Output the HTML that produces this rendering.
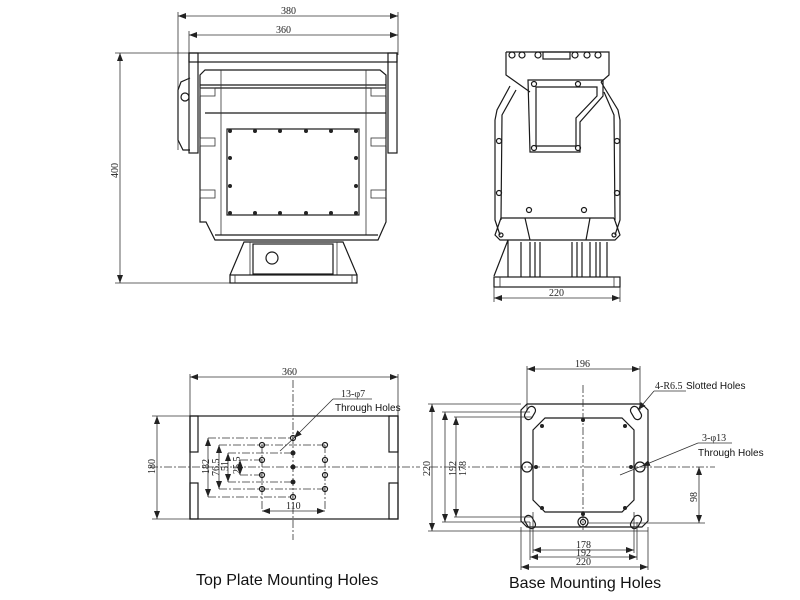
<!DOCTYPE html>
<html><head><meta charset="utf-8"><style>
html,body{margin:0;padding:0;background:#fff;width:800px;height:600px;overflow:hidden}
svg{display:block}
.l{stroke:#1a1a1a;stroke-width:1.2;fill:none}
.t{stroke:#333;stroke-width:0.8;fill:none}
.c{stroke:#333;stroke-width:0.8;fill:none;stroke-dasharray:8 2 2 2}
.d{font-family:"Liberation Serif",serif;font-size:10px;fill:#222}
.s{font-family:"Liberation Sans",sans-serif;font-size:10px;fill:#111}
.h{font-family:"Liberation Sans",sans-serif;font-size:16px;fill:#111}
.b{fill:#222}
</style></head><body>
<svg width="800" height="600" viewBox="0 0 800 600" xmlns="http://www.w3.org/2000/svg">
<defs><marker id="a" markerWidth="8" markerHeight="6" refX="8" refY="3" orient="auto-start-reverse" markerUnits="userSpaceOnUse"><path d="M0,0 L8,3 L0,6z" fill="#222"/></marker></defs>

<!-- FRONT VIEW -->
<line class="t" x1="178" y1="16" x2="398" y2="16" marker-start="url(#a)" marker-end="url(#a)"/>
<text class="d" x="281" y="14">380</text>
<line class="t" x1="189" y1="35" x2="398" y2="35" marker-start="url(#a)" marker-end="url(#a)"/>
<text class="d" x="276" y="33">360</text>
<line class="t" x1="178" y1="12" x2="178" y2="150"/>
<line class="t" x1="398" y1="12" x2="398" y2="55"/>
<line class="t" x1="189" y1="31" x2="189" y2="55"/>
<line class="t" x1="115" y1="53" x2="190" y2="53"/>
<line class="t" x1="115" y1="283" x2="232" y2="283"/>
<line class="t" x1="120" y1="53" x2="120" y2="283" marker-start="url(#a)" marker-end="url(#a)"/>
<text class="d" transform="translate(118,178) rotate(-90)">400</text>
<rect class="l" x="189" y="53" width="208" height="9"/>
<rect class="l" x="189" y="53" width="9" height="100"/>
<rect class="l" x="388" y="53" width="9" height="100"/>
<path class="l" d="M190,78 L181,82 L178,90 L178,140 L183,150 L190,150"/>
<circle class="l" cx="185" cy="97" r="4"/>
<path class="l" d="M205,70 L380,70 L386,75 L386,222 L378,240 L215,240 L206,222 L200,222 L200,75 Z"/>
<line class="l" x1="200" y1="85" x2="386" y2="85"/>
<line class="l" x1="200" y1="88" x2="386" y2="88"/>
<line class="l" x1="205" y1="113" x2="386" y2="113"/>
<line class="t" x1="221" y1="70" x2="221" y2="235"/>
<line class="t" x1="366" y1="70" x2="366" y2="235"/>
<line class="l" x1="215" y1="235" x2="378" y2="235"/>
<rect class="t" x="200" y="88" width="15" height="8"/><rect class="t" x="371" y="88" width="15" height="8"/>
<rect class="t" x="200" y="138" width="15" height="8"/><rect class="t" x="371" y="138" width="15" height="8"/>
<rect class="t" x="200" y="190" width="15" height="8"/><rect class="t" x="371" y="190" width="15" height="8"/>
<rect class="l" x="227" y="129" width="132" height="86"/>
<g class="b">
<circle cx="230" cy="131" r="2"/><circle cx="255" cy="131" r="2"/><circle cx="280" cy="131" r="2"/><circle cx="306" cy="131" r="2"/><circle cx="331" cy="131" r="2"/><circle cx="356" cy="131" r="2"/>
<circle cx="230" cy="213" r="2"/><circle cx="255" cy="213" r="2"/><circle cx="280" cy="213" r="2"/><circle cx="306" cy="213" r="2"/><circle cx="331" cy="213" r="2"/><circle cx="356" cy="213" r="2"/>
<circle cx="230" cy="158" r="2"/><circle cx="356" cy="158" r="2"/><circle cx="230" cy="186" r="2"/><circle cx="356" cy="186" r="2"/>
</g>
<path class="l" d="M230,275 L244,242 L343,242 L357,275"/>
<line class="t" x1="250" y1="242" x2="250" y2="275"/><line class="t" x1="337" y1="242" x2="337" y2="275"/>
<rect class="l" x="253" y="244" width="80" height="30"/>
<circle class="l" cx="272" cy="258" r="6"/>
<rect class="l" x="230" y="275" width="127" height="8"/>
<line class="t" x1="235" y1="275" x2="235" y2="283"/><line class="t" x1="352" y1="275" x2="352" y2="283"/>

<!-- SIDE VIEW -->
<path class="l" d="M506,52 L609,52 L609,75 L601,82 M506,52 L506,75 L530,92"/>
<rect class="l" x="543" y="52" width="27" height="7"/>
<g class="l"><circle cx="512" cy="55" r="3"/><circle cx="522" cy="55" r="3"/><circle cx="538" cy="55" r="3"/><circle cx="575" cy="55" r="3"/><circle cx="587" cy="55" r="3"/><circle cx="598" cy="55" r="3"/></g>
<path class="l" d="M510,86 L497,110 L495,120 L495,220 L500,235 M601,82 L618,110 L620,120 L620,220 L615,235"/>
<path class="l" d="M516,90 L502,115 L501,220 M604,92 L614,115 L615,220"/>
<path class="l" d="M528,80 L603,80 L603,96 L580,122 L580,152 L530,152 Z"/>
<path class="l" d="M536,87 L597,87 L597,96 L576,118 L576,146 L536,146 Z"/>
<g class="l"><circle cx="534" cy="84" r="2.5"/><circle cx="578" cy="84" r="2.5"/><circle cx="534" cy="148" r="2.5"/><circle cx="578" cy="148" r="2.5"/><circle cx="499" cy="141" r="2.5"/><circle cx="617" cy="141" r="2.5"/><circle cx="499" cy="193" r="2.5"/><circle cx="617" cy="193" r="2.5"/><circle cx="529" cy="210" r="2.5"/><circle cx="584" cy="210" r="2.5"/><circle cx="501" cy="235" r="2"/><circle cx="614" cy="235" r="2"/></g>
<path class="l" d="M501,218 L614,218 M501,218 L495,235 L500,240 L615,240 L620,235 L614,218 M525,218 L530,240 M590,218 L586,240"/>
<path class="l" d="M508,240 L494,276 M508,240 L508,277 M521,242 L521,277 M530,242 L530,277 M535,242 L535,277 M540,242 L540,277 M572,242 L572,277 M577,242 L577,277 M582,242 L582,277 M590,242 L590,277 M596,242 L596,277 M600,242 L600,277 M607,242 L607,277"/>
<rect class="l" x="494" y="277" width="126" height="10"/>
<line class="t" x1="500" y1="277" x2="500" y2="287"/><line class="t" x1="614" y1="277" x2="614" y2="287"/>
<line class="t" x1="494" y1="287" x2="494" y2="302"/><line class="t" x1="620" y1="287" x2="620" y2="302"/>
<line class="t" x1="494" y1="298" x2="620" y2="298" marker-start="url(#a)" marker-end="url(#a)"/>
<text class="d" x="549" y="296">220</text>

<!-- TOP PLATE -->
<line class="t" x1="190" y1="377" x2="398" y2="377" marker-start="url(#a)" marker-end="url(#a)"/>
<text class="d" x="282" y="375">360</text>
<line class="t" x1="190" y1="374" x2="190" y2="416"/><line class="t" x1="398" y1="374" x2="398" y2="416"/>
<rect class="l" x="190" y="416" width="208" height="103"/>
<line class="t" x1="152" y1="416" x2="190" y2="416"/><line class="t" x1="152" y1="519" x2="190" y2="519"/>
<line class="t" x1="157" y1="416" x2="157" y2="519" marker-start="url(#a)" marker-end="url(#a)"/>
<text class="d" transform="translate(155,474) rotate(-90)">180</text>
<line class="c" x1="150" y1="467" x2="420" y2="467"/>
<line class="c" x1="293" y1="380" x2="293" y2="540"/>
<rect class="l" x="190" y="416" width="8" height="36"/><rect class="l" x="190" y="483" width="8" height="36"/>
<rect class="l" x="389" y="416" width="9" height="36"/><rect class="l" x="389" y="483" width="9" height="36"/>
<path class="c" d="M208,438 L293,438 M219,445 L325,445 M228,453 L293,453 M240,460 L262,460 M240,475 L262,475 M228,482 L293,482 M219,489 L325,489 M208,497 L293,497 M262,445 L262,511 M325,445 L325,511 M262,445 L262,489"/>
<line class="t" x1="208" y1="438" x2="208" y2="497" marker-start="url(#a)" marker-end="url(#a)"/>
<line class="t" x1="219" y1="445" x2="219" y2="489" marker-start="url(#a)" marker-end="url(#a)"/>
<line class="t" x1="228" y1="453" x2="228" y2="482" marker-start="url(#a)" marker-end="url(#a)"/>
<line class="t" x1="240" y1="460" x2="240" y2="475" marker-start="url(#a)" marker-end="url(#a)"/>
<text class="d" transform="translate(209,474) rotate(-90)">182</text>
<text class="d" transform="translate(219,476) rotate(-90)">76.5</text>
<text class="d" transform="translate(228,471) rotate(-90)">51</text>
<text class="d" transform="translate(240,474) rotate(-90)">25.5</text>
<line class="t" x1="262" y1="511" x2="325" y2="511" marker-start="url(#a)" marker-end="url(#a)"/>
<text class="d" x="286" y="509">110</text>
<g class="l"><circle cx="262" cy="445" r="2.5"/><circle cx="262" cy="460" r="2.5"/><circle cx="262" cy="475" r="2.5"/><circle cx="262" cy="489" r="2.5"/><circle cx="325" cy="445" r="2.5"/><circle cx="325" cy="460" r="2.5"/><circle cx="325" cy="475" r="2.5"/><circle cx="325" cy="489" r="2.5"/><circle cx="293" cy="438" r="2.5"/><circle cx="293" cy="497" r="2.5"/></g>
<g class="b"><circle cx="293" cy="453" r="2.5"/><circle cx="293" cy="467" r="2.5"/><circle cx="293" cy="482" r="2.5"/></g>
<text class="d" x="341" y="397">13-φ7</text>
<line class="t" x1="333" y1="399" x2="372" y2="399"/>
<line class="t" x1="333" y1="399" x2="294" y2="438" marker-end="url(#a)"/>
<line class="t" x1="280" y1="451" x2="294" y2="438"/>
<text class="s" x="335" y="411">Through Holes</text>
<text class="h" x="196" y="585">Top Plate Mounting Holes</text>

<!-- BASE -->
<line class="t" x1="527" y1="369" x2="640" y2="369" marker-start="url(#a)" marker-end="url(#a)"/>
<text class="d" x="575" y="367">196</text>
<line class="t" x1="527" y1="366" x2="527" y2="410"/><line class="t" x1="640" y1="366" x2="640" y2="410"/>
<path class="l" d="M527,404 L642,404 L648,410 L648,521 L642,527 L527,527 L521,521 L521,410 Z"/>
<path class="l" d="M545,418 L622,418 L634,430 L634,500 L622,512 L545,512 L533,500 L533,430 Z"/>
<line class="c" x1="430" y1="467" x2="715" y2="467"/>
<line class="c" x1="583" y1="385" x2="583" y2="530"/>
<g class="l">
<rect x="526" y="406" width="8" height="14" rx="4" transform="rotate(30 530 413)"/>
<rect x="632" y="406" width="8" height="14" rx="4" transform="rotate(-30 636 413)"/>
<rect x="526" y="515" width="8" height="14" rx="4" transform="rotate(-30 530 522)"/>
<rect x="632" y="515" width="8" height="14" rx="4" transform="rotate(30 636 522)"/>
<circle cx="527" cy="467" r="5"/><circle cx="640" cy="467" r="5"/><circle cx="583" cy="522" r="5"/><circle cx="583" cy="522" r="2.5"/>
</g>
<g class="b"><circle cx="583" cy="420" r="2"/><circle cx="583" cy="514" r="2"/><circle cx="536" cy="467" r="2"/><circle cx="631" cy="467" r="2"/><circle cx="542" cy="426" r="2"/><circle cx="625" cy="426" r="2"/><circle cx="542" cy="508" r="2"/><circle cx="625" cy="508" r="2"/></g>
<line class="t" x1="428" y1="404" x2="521" y2="404"/><line class="t" x1="428" y1="531" x2="648" y2="531"/>
<line class="t" x1="432" y1="404" x2="432" y2="531" marker-start="url(#a)" marker-end="url(#a)"/>
<text class="d" transform="translate(430,476) rotate(-90)">220</text>
<line class="t" x1="442" y1="412" x2="530" y2="412"/><line class="t" x1="442" y1="522" x2="530" y2="522"/>
<line class="t" x1="445" y1="412" x2="445" y2="522" marker-start="url(#a)" marker-end="url(#a)"/>
<text class="d" transform="translate(456,476) rotate(-90)">192</text>
<line class="t" x1="454" y1="417" x2="533" y2="417"/><line class="t" x1="454" y1="517" x2="533" y2="517"/>
<line class="t" x1="456" y1="417" x2="456" y2="517" marker-start="url(#a)" marker-end="url(#a)"/>
<text class="d" transform="translate(466,476) rotate(-90)">178</text>
<line class="t" x1="533" y1="512" x2="533" y2="553"/><line class="t" x1="634" y1="512" x2="634" y2="553"/>
<line class="t" x1="530" y1="522" x2="530" y2="560"/><line class="t" x1="637" y1="522" x2="637" y2="560"/>
<line class="t" x1="521" y1="527" x2="521" y2="570"/><line class="t" x1="648" y1="527" x2="648" y2="570"/>
<line class="t" x1="533" y1="550" x2="634" y2="550" marker-start="url(#a)" marker-end="url(#a)"/>
<text class="d" x="576" y="548">178</text>
<line class="t" x1="530" y1="557" x2="637" y2="557" marker-start="url(#a)" marker-end="url(#a)"/>
<text class="d" x="576" y="556">192</text>
<line class="t" x1="521" y1="567" x2="648" y2="567" marker-start="url(#a)" marker-end="url(#a)"/>
<text class="d" x="576" y="565">220</text>
<line class="t" x1="588" y1="523" x2="705" y2="523"/>
<line class="t" x1="699" y1="467" x2="699" y2="523" marker-start="url(#a)" marker-end="url(#a)"/>
<text class="d" transform="translate(697,502) rotate(-90)">98</text>
<text class="d" x="655" y="389">4-R6.5</text>
<line class="t" x1="654" y1="391" x2="686" y2="391"/>
<line class="t" x1="654" y1="391" x2="638" y2="410" marker-end="url(#a)"/>
<text class="s" x="686" y="389">Slotted Holes</text>
<text class="d" x="702" y="441">3-φ13</text>
<line class="t" x1="698" y1="443" x2="732" y2="443"/>
<line class="t" x1="698" y1="443" x2="642" y2="466" marker-end="url(#a)"/>
<line class="t" x1="620" y1="475" x2="642" y2="466"/>
<text class="s" x="698" y="456">Through Holes</text>
<text class="h" x="509" y="588">Base Mounting Holes</text>
</svg>
</body></html>
